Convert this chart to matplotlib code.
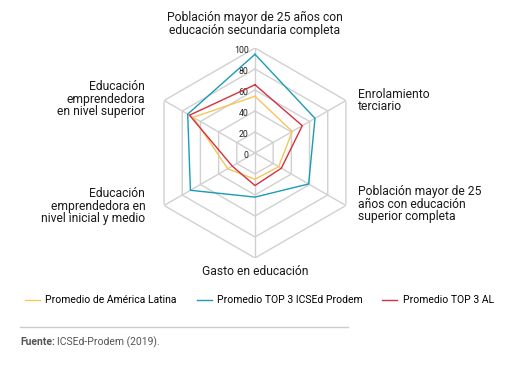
import numpy as np
import matplotlib
matplotlib.use('Agg')
import matplotlib.pyplot as plt
from matplotlib.text import Annotation

plt.rcParams['font.family'] = ['Roboto', 'DejaVu Sans']

# Datos
categorias = [
    'Población mayor de 25 años con\neducación secundaria completa',
    'Enrolamiento\nterciario',
    'Población mayor de 25\naños con educación\nsuperior completa',
    'Gasto en educación',
    'Educación\nemprendedora en\nnivel inicial y medio',
    'Educación\nemprendedora\nen nivel superior',
]
america_latina = [54, 41, 26, 25, 30, 68]
top3_icsed = [94, 66, 59, 42, 71, 74]
top3_al = [65, 52, 29, 31, 25, 72]
series_nombres = ['Promedio de América Latina', 'Promedio TOP 3 ICSEd Prodem', 'Promedio TOP 3 AL']
series_colores = ['#F7C55A', '#1B9BB6', '#D6303D']
niveles = [0, 20, 40, 60, 80, 100]

# Ubicación de etiquetas: (offset x, offset y en puntos, ha, va)
etiqueta_pos = [
    (0, 8, 'center', 'bottom'),
    (8.5, 0, 'left', 'center'),
    (8.5, 1, 'left', 'center'),
    (0, -5, 'center', 'top'),
    (-13.5, -0.5, 'right', 'center'),
    (-13.5, 1, 'right', 'center'),
]


def grafico_radar():
    fig = plt.figure(figsize=(5.19, 3.75), dpi=100)
    ax = fig.add_axes([0.289, 0.312, 0.4046, 0.56], projection='polar')
    ax.set_theta_zero_location('N')
    ax.set_theta_direction(-1)
    ax.set_ylim(0, 100)
    ax.set_axis_off()

    n = len(categorias)
    ang = np.linspace(0, 2 * np.pi, n, endpoint=False)
    ang_c = np.append(ang, ang[0])

    # Rejilla hexagonal
    for nv in niveles[1:]:
        ax.plot(ang_c, [nv] * (n + 1), color='#d0d0d0', lw=1, zorder=1)
    for a in ang:
        ax.plot([a, a], [0, 100], color='#d0d0d0', lw=1, zorder=1)

    # Etiquetas de escala
    for nv in niveles:
        ax.annotate(str(nv), xy=(0, nv), xytext=(-4.5, -1.5), textcoords='offset points',
                    ha='right', va='center', fontsize=6.3, color='#222222')

    # Series
    for vals, nombre, col in zip([america_latina, top3_icsed, top3_al], series_nombres, series_colores):
        ax.plot(ang_c, vals + vals[:1], color=col, lw=1, label=nombre, zorder=3)

    # Etiquetas de categorías
    for a, cat, (dx, dy, ha, va) in zip(ang, categorias, etiqueta_pos):
        ax.annotate(cat, xy=(a, 100), xytext=(dx, dy), textcoords='offset points',
                    ha=ha, va=va, ma=ha if ha != 'center' else 'center',
                    fontsize=8.7, color='#1a1a1a', linespacing=0.95)

    # Leyenda
    h, l = ax.get_legend_handles_labels()
    fig.legend(h, l, loc='center left', bbox_to_anchor=(0.03, 0.199), ncol=3, frameon=False,
               fontsize=7.5, handlelength=1.45, handletextpad=0.5, columnspacing=1.9)

    # Línea separadora y fuente
    fig.add_artist(plt.Line2D([20 / 519, 348 / 519], [1 - 327 / 375] * 2, color='#cccccc', lw=1))
    t1 = fig.text(20 / 519, 1 - 342 / 375, 'Fuente:', fontsize=7.5, fontweight='bold',
                  color='#555555', va='center')
    fig.add_artist(Annotation('ICSEd-Prodem (2019).', xy=(1, 0.5), xycoords=t1, xytext=(1.5, 0),
                              textcoords='offset points', va='center', fontsize=7.5, color='#555555'))

    fig.savefig('out.png', dpi=100)


if __name__ == "__main__":
    grafico_radar()
